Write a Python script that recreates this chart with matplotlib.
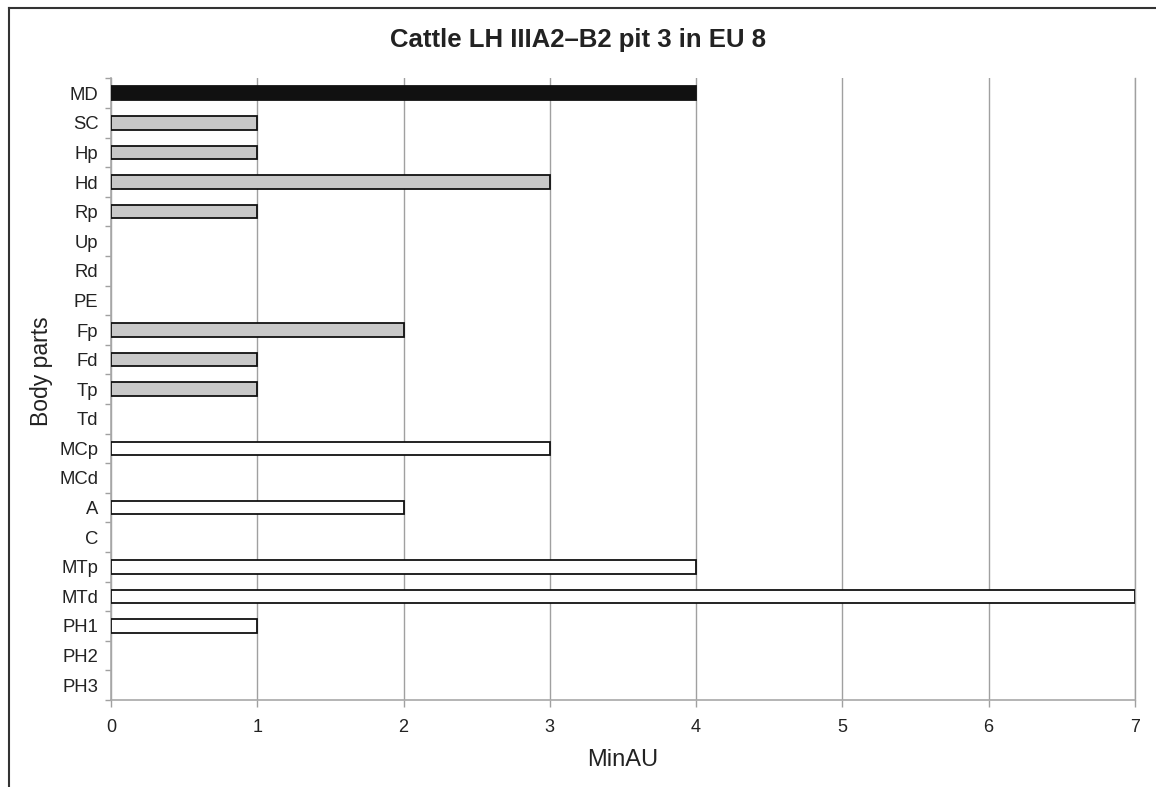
import matplotlib
matplotlib.use("Agg")
import matplotlib.pyplot as plt
from matplotlib.lines import Line2D
import numpy as np

plt.rcParams['font.family'] = ['Liberation Sans', 'DejaVu Sans']

title = "Cattle LH IIIA2\u2013B2 pit 3 in EU 8"
categories = ["MD", "SC", "Hp", "Hd", "Rp", "Up", "Rd", "PE", "Fp", "Fd", "Tp",
              "Td", "MCp", "MCd", "A", "C", "MTp", "MTd", "PH1", "PH2", "PH3"]
minau = [4, 1, 1, 3, 1, 0, 0, 0, 2, 1, 1, 0, 3, 0, 2, 0, 4, 7, 1, 0, 0]
groups = ["head", "upper", "upper", "upper", "upper", "upper", "upper", "upper",
          "upper", "upper", "upper", "upper", "lower", "lower", "lower", "lower",
          "lower", "lower", "lower", "lower", "lower"]
xticks = [0, 1, 2, 3, 4, 5, 6, 7]

group_colors = {"head": "#111111", "upper": "#c8c8c8", "lower": "#ffffff"}

fig = plt.figure(figsize=(11.56, 7.87), dpi=100)
ax = fig.add_axes([0.0960, 0.1106, 0.8858, 0.7897])

n = len(categories)
ypos = np.arange(n)
for y, v, g in zip(ypos, minau, groups):
    if v > 0:
        ax.barh(y, v, height=0.46, color=group_colors[g], edgecolor="#111111",
                linewidth=1.3, zorder=3)

ax.set_ylim(n - 0.5, -0.5)
ax.set_xlim(0, 7)
ax.set_yticks(ypos)
ax.set_yticklabels(categories)
ax.set_yticks(np.arange(n + 1) - 0.5, minor=True)
ax.tick_params(axis='y', which='major', length=0, pad=9, labelsize=13.3, colors="#222222")
ax.tick_params(axis='y', which='minor', length=4, width=1, color="#a0a0a0", direction='out')
ax.set_xticks(xticks)
ax.tick_params(axis='x', length=5, width=1, color="#a0a0a0", pad=9, labelsize=13,
               labelcolor="#222222")
ax.grid(axis='x', color="#a0a0a0", linewidth=1, zorder=0)
ax.spines["top"].set_visible(False)
ax.spines["right"].set_color("#a0a0a0")
ax.spines["right"].set_linewidth(1.0)
for s in ["left", "bottom"]:
    ax.spines[s].set_color("#a8a8a8")
    ax.spines[s].set_linewidth(1.2)

ax.set_xlabel("MinAU", fontsize=17, color="#222222")
ax.xaxis.set_label_coords(0.5, -0.079)
ax.set_ylabel("Body parts", fontsize=16.5, color="#222222")
ax.yaxis.set_label_coords(-0.057, 0.529)
fig.text(0.5, 1 - 47 / 787, title, ha='center', va='baseline', fontsize=18.5,
         fontweight='bold', color="#222222")

# frame lines (top and left) of the original figure box
fig.add_artist(Line2D([9 / 1156, 1.0], [1 - 8 / 787, 1 - 8 / 787], color="#333333",
                      linewidth=1.5, transform=fig.transFigure))
fig.add_artist(Line2D([9 / 1156, 9 / 1156], [0.0, 1 - 8 / 787], color="#333333",
                      linewidth=1.5, transform=fig.transFigure))

fig.savefig("out.png", dpi=100)
